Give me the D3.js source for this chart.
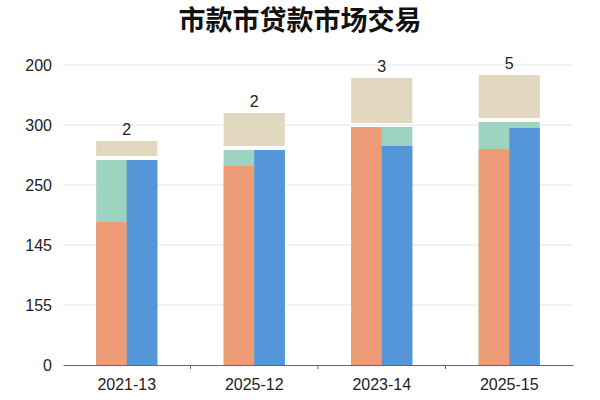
<!DOCTYPE html>
<html>
<head>
<meta charset="utf-8">
<script src="https://cdn.jsdelivr.net/npm/d3@7"></script>
<style>
  html, body { margin: 0; padding: 0; background: #fff; }
  svg { display: block; font-family: "Liberation Sans", Arial, "Noto Sans CJK SC", sans-serif; }
</style>
</head>
<body>
<div id="chart"></div>
<script>
// ---------- Data ----------
const categories = ["2021-13", "2025-12", "2023-14", "2025-15"];
const orangeVals = [143, 199, 238, 216];   // left bar base
const blueVals   = [205, 215, 219, 237];   // right bar
const greenTop   = [205, 215, 238, 243];   // green fills both bars up to this level
const beigeVals  = [15, 33, 45, 43];       // cap block height above the gap
const topLabels  = ["2", "2", "3", "5"];

const yTickValues = [0, 60, 120, 180, 240, 300];
const yTickLabels = ["0", "155", "145", "250", "300", "200"];

const title = "市款市贷款市场交易";

// ---------- Layout ----------
const width = 600, height = 400;
const margin = { top: 65, right: 27, bottom: 35, left: 63 };
const innerW = width - margin.left - margin.right;
const innerH = height - margin.top - margin.bottom;
const capGap = 4; // white gap between the bars and the beige cap

const colors = {
  orange: "#EE9B78",
  green: "#9DD4BF",
  blue: "#5596D8",
  beige: "#E2D8BF",
};

const svg = d3.select("#chart").append("svg")
  .attr("width", width)
  .attr("height", height);

svg.append("text")
  .attr("x", width / 2)
  .attr("y", 30)
  .attr("text-anchor", "middle")
  .style("font-family", "'Noto Sans CJK SC', sans-serif")
  .style("font-size", "27px")
  .style("font-weight", "700")
  .style("fill", "#111")
  .text(title);

const g = svg.append("g")
  .attr("transform", `translate(${margin.left},${margin.top})`);

const x = d3.scaleBand()
  .domain(categories)
  .range([0, innerW])
  .paddingInner(0)
  .paddingOuter(0);

const y = d3.scaleLinear()
  .domain([0, 300])
  .range([innerH, 0]);

const barW = x.bandwidth() * 0.24;

// gridlines
g.append("g")
  .selectAll("line")
  .data(yTickValues.slice(1))
  .enter()
  .append("line")
  .attr("x1", 0)
  .attr("x2", innerW)
  .attr("y1", d => y(d))
  .attr("y2", d => y(d))
  .attr("stroke", "#e6e6e6")
  .attr("stroke-width", 1);

// y axis labels
const yAxis = g.append("g")
  .call(d3.axisLeft(y)
    .tickValues(yTickValues)
    .tickSize(0)
    .tickPadding(11)
    .tickFormat((d, i) => yTickLabels[i]));
yAxis.select(".domain").remove();
yAxis.selectAll("text")
  .style("font-size", "16px")
  .style("fill", "#222");

// x axis
const xAxis = g.append("g")
  .attr("transform", `translate(0,${innerH})`)
  .call(d3.axisBottom(x).tickSize(0).tickPadding(14));
xAxis.select(".domain").attr("stroke", "#666").attr("stroke-width", 1);
xAxis.selectAll("text")
  .style("font-size", "16px")
  .style("fill", "#222");

// small ticks at band boundaries
xAxis.selectAll(".sep")
  .data(categories.slice(1))
  .enter()
  .append("line")
  .attr("class", "sep")
  .attr("x1", d => x(d))
  .attr("x2", d => x(d))
  .attr("y1", 0)
  .attr("y2", 4)
  .attr("stroke", "#666");

const rows = categories.map((c, i) => ({
  cat: c,
  orange: orangeVals[i],
  blue: blueVals[i],
  level: greenTop[i],
  beige: beigeVals[i],
  label: topLabels[i],
}));

const grp = g.append("g")
  .selectAll("g")
  .data(rows)
  .enter()
  .append("g")
  .attr("transform", d => `translate(${x(d.cat) + x.bandwidth() / 2},0)`);

// green fill up to the shared level (both bars)
grp.append("rect")
  .attr("x", -barW)
  .attr("width", barW * 2)
  .attr("y", d => y(d.level))
  .attr("height", d => y(0) - y(d.level))
  .attr("fill", colors.green);

// orange left bar
grp.append("rect")
  .attr("x", -barW)
  .attr("width", barW)
  .attr("y", d => y(d.orange))
  .attr("height", d => y(0) - y(d.orange))
  .attr("fill", colors.orange);

// blue right bar
grp.append("rect")
  .attr("x", 0)
  .attr("width", barW)
  .attr("y", d => y(d.blue))
  .attr("height", d => y(0) - y(d.blue))
  .attr("fill", colors.blue);

// beige cap above a white gap
grp.append("rect")
  .attr("x", -barW)
  .attr("width", barW * 2)
  .attr("y", d => y(d.level) - capGap - (y(0) - y(d.beige)))
  .attr("height", d => y(0) - y(d.beige))
  .attr("fill", colors.beige);

grp.append("text")
  .attr("text-anchor", "middle")
  .attr("y", d => y(d.level) - capGap - (y(0) - y(d.beige)) - 6)
  .style("font-size", "16px")
  .style("fill", "#222")
  .text(d => d.label);
</script>
</body>
</html>
